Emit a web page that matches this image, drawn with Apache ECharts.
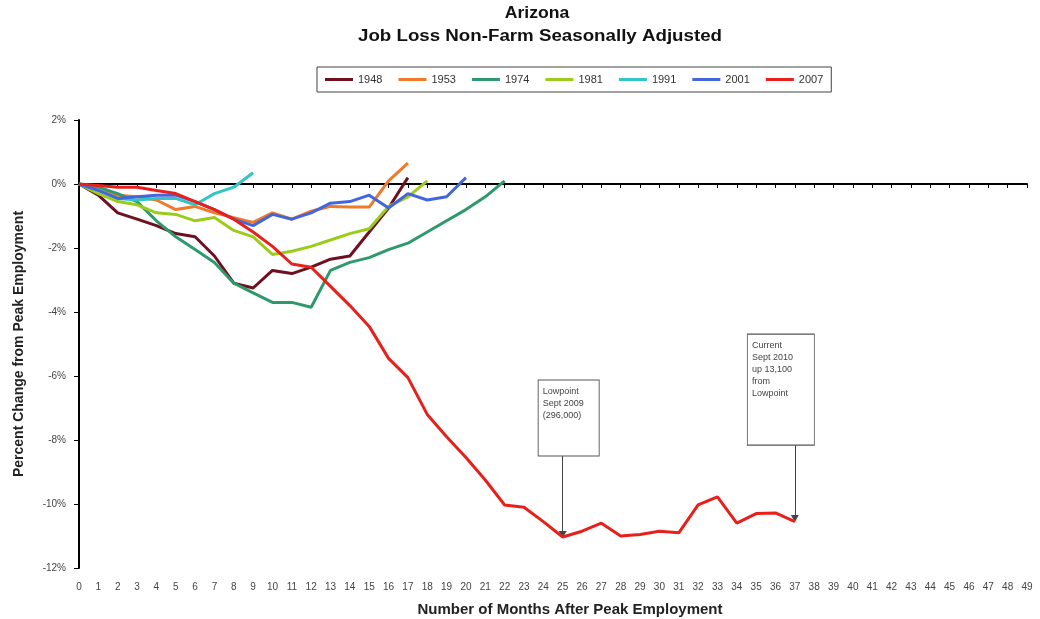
<!DOCTYPE html>
<html>
<head>
<meta charset="utf-8">
<script src="https://cdn.jsdelivr.net/npm/echarts@6/dist/echarts.min.js"></script>
<style>
  html, body { margin: 0; padding: 0; background: #fff; }
  #chart { width: 1040px; height: 619px; }
</style>
</head>
<body>
<div id="chart"></div>
<script>
// Months after peak employment (0..49)
const months = Array.from({ length: 50 }, (_, i) => String(i));

// Percent change from peak employment, one array per recession
const m1948 = [0, -0.35, -0.9, -1.1, -1.3, -1.55, -1.65, -2.25, -3.1, -3.25, -2.7, -2.8, -2.6, -2.35, -2.25, -1.5, -0.75, 0.2];
const m1953 = [0, -0.2, -0.35, -0.4, -0.5, -0.8, -0.7, -0.9, -1.05, -1.2, -0.9, -1.1, -0.85, -0.7, -0.72, -0.72, 0.1, 0.65];
const m1974 = [0, -0.1, -0.3, -0.55, -1.15, -1.65, -2.05, -2.45, -3.1, -3.4, -3.7, -3.7, -3.85, -2.7, -2.45, -2.3, -2.05, -1.85, -1.5, -1.15, -0.8, -0.4, 0.1];
const m1981 = [0, -0.3, -0.55, -0.65, -0.9, -0.95, -1.15, -1.05, -1.45, -1.65, -2.2, -2.1, -1.95, -1.75, -1.55, -1.4, -0.7, -0.4, 0.1];
const m1991 = [0, -0.2, -0.45, -0.5, -0.45, -0.45, -0.65, -0.3, -0.1, 0.35];
const m2001 = [0, -0.2, -0.45, -0.4, -0.35, -0.35, -0.55, -0.8, -1.1, -1.3, -0.95, -1.1, -0.9, -0.6, -0.55, -0.35, -0.75, -0.3, -0.5, -0.4, 0.2];
const m2007 = [0, -0.05, -0.1, -0.1, -0.2, -0.3, -0.55, -0.8, -1.1, -1.5, -1.95, -2.5, -2.6, -3.2, -3.8, -4.45, -5.45, -6.05, -7.2, -7.9, -8.55, -9.25, -10.03, -10.1, -10.55, -11.03, -10.85, -10.6, -11.0, -10.95, -10.85, -10.9, -10.03, -9.78, -10.6, -10.3, -10.28, -10.55];

const seriesNames = ['1948', '1953', '1974', '1981', '1991', '2001', '2007'];
const seriesData = [m1948, m1953, m1974, m1981, m1991, m2001, m2007];
const seriesColors = ['#6e1020', '#f07a2a', '#2e9a6c', '#9ccc1a', '#33c4c4', '#4466dd', '#e8201c'];

const titleLines = ['Arizona', 'Job Loss Non-Farm Seasonally Adjusted'];

// Call-out boxes on the 2007 line
const lowMonth = 25;
const currentMonth = 37;
const lowText = 'Lowpoint\nSept 2009\n(296,000)';
const currentText = 'Current\nSept 2010\nup 13,100\nfrom\nLowpoint';
const lowBoxBottom = -8.5;
const currentBoxBottom = -8.16;

const font = '"Liberation Sans", Arial, sans-serif';

const boxLabel = {
  show: true,
  position: [5, 6],
  align: 'left',
  verticalAlign: 'top',
  color: '#444',
  fontFamily: font,
  fontSize: 9,
  lineHeight: 12
};

const series = seriesNames.map((name, i) => {
  const s = {
    name: name,
    type: 'line',
    data: seriesData[i],
    showSymbol: false,
    symbol: 'none',
    xAxisIndex: 0,
    lineStyle: { width: 3, color: seriesColors[i] },
    itemStyle: { color: seriesColors[i] },
    z: 2 + i
  };
  if (name === '2007') {
    s.markLine = {
      silent: true,
      symbol: ['none', 'triangle'],
      symbolSize: [8, 7],
      label: { show: false },
      lineStyle: { color: '#444', width: 1, type: 'solid' },
      data: [
        [{ coord: [String(lowMonth), lowBoxBottom] }, { coord: [String(lowMonth), m2007[lowMonth] + 0.08] }],
        [{ coord: [String(currentMonth), currentBoxBottom] }, { coord: [String(currentMonth), m2007[currentMonth] + 0.1] }]
      ]
    };
    s.markPoint = {
      silent: true,
      data: [
        {
          coord: [String(lowMonth), lowBoxBottom],
          symbol: 'rect',
          symbolSize: [61, 76],
          symbolOffset: [6, -38],
          itemStyle: { color: '#fff', borderColor: '#555', borderWidth: 1 },
          label: Object.assign({ formatter: lowText }, boxLabel)
        },
        {
          coord: [String(currentMonth), currentBoxBottom],
          symbol: 'rect',
          symbolSize: [67, 111],
          symbolOffset: [-14, -55.5],
          itemStyle: { color: '#fff', borderColor: '#555', borderWidth: 1 },
          label: Object.assign({ formatter: currentText }, boxLabel)
        }
      ]
    };
  }
  return s;
});

const chart = echarts.init(document.getElementById('chart'), null, { renderer: 'canvas' });
chart.setOption({
  animation: false,
  backgroundColor: '#ffffff',
  textStyle: { fontFamily: font },
  graphic: [
    {
      type: 'text',
      x: 537, y: 14,
      scaleX: 1.1,
      style: { text: titleLines[0], textAlign: 'center', textVerticalAlign: 'middle', fontFamily: font, fontSize: 16, fontWeight: 'bold', fill: '#111' }
    },
    {
      type: 'text',
      x: 540, y: 37,
      scaleX: 1.17,
      style: { text: titleLines[1], textAlign: 'center', textVerticalAlign: 'middle', fontFamily: font, fontSize: 16, fontWeight: 'bold', fill: '#111' }
    }
  ],
  legend: {
    top: 67,
    left: 317,
    data: seriesNames,
    icon: 'rect',
    itemWidth: 28,
    itemHeight: 3,
    itemGap: 16,
    padding: [7, 8, 7, 8],
    borderColor: '#444',
    borderWidth: 1,
    textStyle: { fontFamily: font, fontSize: 11, color: '#333' }
  },
  grid: { left: 79, right: 13, top: 120, bottom: 51, containLabel: false, outerBoundsMode: 'none' },
  xAxis: [
    {
      type: 'category',
      data: months,
      boundaryGap: false,
      position: 'bottom',
      axisLine: { show: false, onZero: false },
      axisTick: { show: false },
      axisLabel: { interval: 0, fontSize: 10, color: '#444', fontFamily: font, margin: 14 },
      splitLine: { show: false },
      name: 'Number of Months After Peak Employment',
      nameLocation: 'middle',
      nameGap: 34,
      nameTextStyle: { fontFamily: font, fontSize: 15, fontWeight: 'bold', color: '#222', padding: [0, 0, 0, 34] }
    },
    {
      // zero line with month ticks
      type: 'category',
      data: months,
      boundaryGap: false,
      position: 'bottom',
      axisLine: { show: true, onZero: true, lineStyle: { color: '#000', width: 2 } },
      axisTick: { show: true, interval: 0, length: 4, lineStyle: { color: '#000', width: 1 } },
      axisLabel: { show: false },
      splitLine: { show: false }
    }
  ],
  yAxis: {
    type: 'value',
    min: -12,
    max: 2,
    interval: 2,
    axisLine: { show: true, lineStyle: { color: '#000', width: 2 } },
    axisTick: { show: true, length: 5, lineStyle: { color: '#000' } },
    axisLabel: { formatter: '{value}%', fontSize: 10, color: '#444', fontFamily: font, margin: 13 },
    splitLine: { show: false },
    name: 'Percent Change from Peak Employment',
    nameLocation: 'middle',
    nameGap: 53,
    nameTextStyle: { fontFamily: font, fontSize: 14, fontWeight: 'bold', color: '#222' }
  },
  series: series
});
</script>
</body>
</html>
